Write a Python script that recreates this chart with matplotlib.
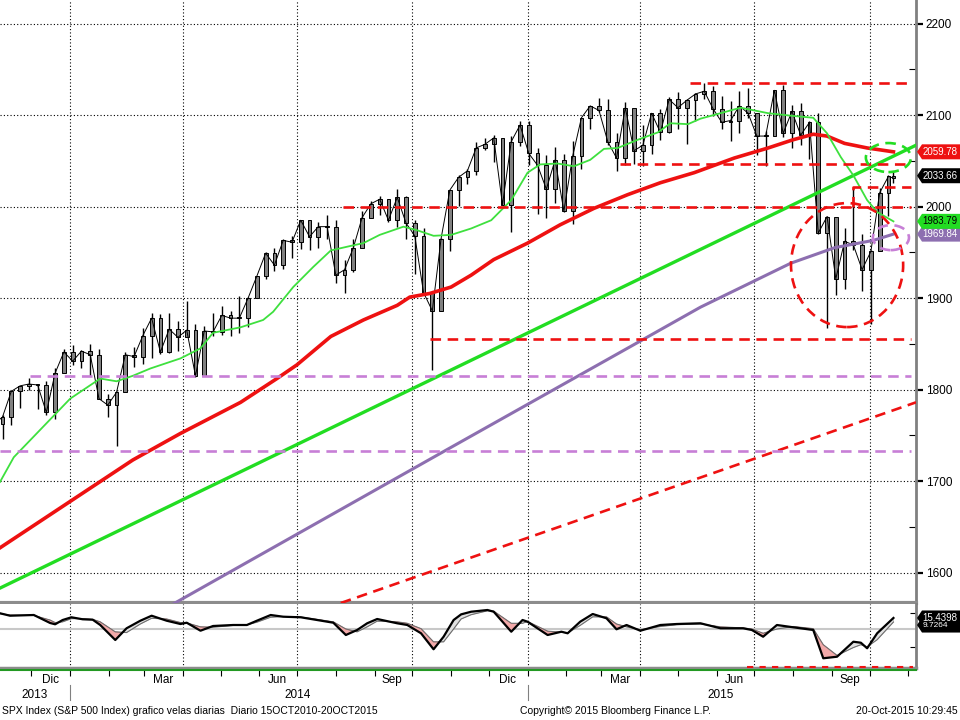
import matplotlib
matplotlib.use("Agg")
import matplotlib.pyplot as plt
import matplotlib.dates as mdates
import matplotlib.transforms as mtrans
from matplotlib.patches import Ellipse, Polygon, Rectangle
from matplotlib.lines import Line2D
import pandas as pd

plt.rcParams['font.family'] = ['Liberation Sans', 'DejaVu Sans']

# weekly SPX bars (friday closes), last bar is 20-Oct-2015
week_dates = list(pd.date_range('2013-11-01', '2015-10-16', freq='W-FRI')) + [pd.Timestamp('2015-10-20')]
first_open = 1759
closes = [1762, 1770, 1798, 1804, 1806, 1805, 1775, 1818, 1841,
          # 2014
          1831, 1842, 1838, 1790, 1783, 1797, 1838, 1836, 1859, 1878, 1841, 1866, 1857,
          1865, 1815, 1864, 1863, 1881, 1878, 1878, 1900, 1924, 1949, 1936, 1963, 1961,
          1985, 1967, 1978, 1978, 1925, 1931, 1955, 1988, 2003, 2008, 1985, 2010, 1982,
          1968, 1906, 1886, 1965, 2018, 2032, 2039, 2064, 2068, 2075, 2002, 2071, 2089,
          # 2015
          2058, 2045, 2019, 2051, 1995, 2055, 2097, 2110, 2105, 2071, 2053, 2108, 2061,
          2067, 2102, 2081, 2117, 2108, 2116, 2123, 2126, 2107, 2092, 2094, 2110, 2102,
          2077, 2077, 2127, 2080, 2104, 2078, 2092, 1971, 1989, 1921, 1962, 1958, 1931,
          1951, 2015, 2033, 2031]
highs = [1775, 1772, 1798, 1804, 1813, 1806, 1809, 1823, 1844,
         1849, 1843, 1850, 1844, 1795, 1798, 1841, 1847, 1867, 1884, 1883, 1884, 1875,
         1897, 1872, 1869, 1884, 1891, 1886, 1902, 1901, 1924, 1950, 1955, 1964, 1968,
         1985, 1985, 1983, 1991, 1985, 1942, 1964, 1995, 2006, 2011, 2008, 2019, 2011,
         1985, 1977, 1906, 1966, 2018, 2034, 2041, 2071, 2075, 2078, 2074, 2077, 2094,
         2094, 2064, 2056, 2065, 2057, 2072, 2097, 2110, 2119, 2117, 2080, 2114, 2106,
         2089, 2102, 2107, 2120, 2125, 2117, 2124, 2135, 2132, 2121, 2115, 2126, 2130,
         2102, 2083, 2127, 2133, 2111, 2113, 2094, 2102, 1990, 1987, 1976, 2021, 1970,
         1952, 2020, 2034, 2039]
lows = [1746, 1746, 1761, 1780, 1799, 1779, 1772, 1768, 1819,
        1827, 1824, 1815, 1790, 1770, 1738, 1798, 1825, 1828, 1834, 1839, 1840, 1842,
        1858, 1814, 1816, 1859, 1860, 1859, 1862, 1868, 1901, 1921, 1930, 1932, 1944,
        1954, 1952, 1955, 1965, 1916, 1905, 1928, 1955, 1988, 1991, 1983, 1978, 1964,
        1926, 1905, 1821, 1886, 1951, 2001, 2025, 2034, 2062, 2049, 2002, 1972, 2066,
        2045, 1992, 1988, 2004, 1994, 1981, 2041, 2085, 2103, 2067, 2039, 2045, 2046,
        2044, 2057, 2073, 2080, 2085, 2068, 2093, 2118, 2099, 2085, 2072, 2080, 2097,
        2056, 2044, 2079, 2076, 2064, 2067, 2052, 1970, 1867, 1903, 1910, 1953, 1908,
        1872, 1951, 1990, 2026]
opens = [first_open] + closes[:-1]

# moving averages
ma50_dates = ['2013-11-06', '2013-11-17', '2014-01-01', '2014-01-25', '2014-02-07', '2014-02-20',
              '2014-03-06', '2014-03-30', '2014-04-15', '2014-04-25', '2014-05-17', '2014-06-04',
              '2014-06-12', '2014-06-28', '2014-07-14', '2014-07-28', '2014-08-13', '2014-08-23',
              '2014-09-05', '2014-09-24', '2014-10-05', '2014-10-18', '2014-11-01', '2014-11-17',
              '2014-12-03', '2014-12-19', '2015-01-01', '2015-01-11', '2015-01-25', '2015-02-07',
              '2015-02-20', '2015-03-03', '2015-03-14', '2015-03-30', '2015-04-15', '2015-04-25',
              '2015-05-09', '2015-05-19', '2015-06-20', '2015-07-12', '2015-08-01', '2015-08-17',
              '2015-08-28', '2015-09-08', '2015-09-18', '2015-09-29', '2015-10-07', '2015-10-20']
ma50_values = [1699, 1726, 1790, 1812, 1809, 1815, 1823, 1834, 1845, 1862, 1868, 1876,
               1885, 1912, 1934, 1952, 1957, 1960, 1969, 1978, 1974, 1968, 1969, 1976,
               1985, 2007, 2037, 2046, 2047, 2044, 2051, 2063, 2064, 2073, 2081, 2091,
               2090, 2096, 2108, 2102, 2099, 2097, 2080, 2054, 2034, 2007, 1994, 1983.79]

ma200_dates = ['2013-11-06', '2014-02-20', '2014-03-30', '2014-05-17', '2014-06-15', '2014-07-01',
               '2014-07-28', '2014-08-23', '2014-09-19', '2014-09-29', '2014-10-15', '2014-11-01',
               '2014-11-17', '2014-12-05', '2015-01-01', '2015-01-27', '2015-02-23', '2015-03-22',
               '2015-04-17', '2015-05-14', '2015-06-15', '2015-07-12', '2015-08-01', '2015-08-17',
               '2015-08-28', '2015-09-11', '2015-09-29', '2015-10-20']
ma200_values = [1627, 1723, 1752, 1786, 1812, 1827, 1858, 1876, 1892, 1901, 1905, 1912,
                1925, 1942, 1960, 1980, 1998, 2013, 2026, 2037, 2053, 2064, 2073, 2079,
                2077, 2069, 2064, 2059.78]

malong_dates = ['2014-03-14', '2014-03-26', '2014-10-27', '2015-04-01', '2015-05-19',
                '2015-07-30', '2015-09-03', '2015-10-04', '2015-10-20']
malong_values = [1558, 1567, 1733, 1853, 1890, 1938, 1955, 1963, 1969.84]

# lower panel oscillator
osc_dates = ['2013-11-06', '2013-11-14', '2013-12-03', '2013-12-16', '2013-12-20', '2013-12-26',
             '2014-01-02', '2014-01-11', '2014-01-19', '2014-01-25', '2014-02-06', '2014-02-15',
             '2014-02-26', '2014-03-07', '2014-03-19', '2014-03-30', '2014-04-04', '2014-04-15',
             '2014-04-25', '2014-05-11', '2014-05-22', '2014-05-30', '2014-06-10', '2014-06-20',
             '2014-07-04', '2014-07-17', '2014-07-30', '2014-08-09', '2014-08-18', '2014-08-26',
             '2014-09-03', '2014-09-19', '2014-09-27', '2014-10-08', '2014-10-18', '2014-10-26',
             '2014-11-03', '2014-11-09', '2014-11-17', '2014-11-30', '2014-12-05', '2014-12-19',
             '2014-12-28', '2015-01-01', '2015-01-17', '2015-01-28', '2015-02-02', '2015-02-12',
             '2015-02-22', '2015-03-05', '2015-03-13', '2015-03-21', '2015-04-01', '2015-04-17',
             '2015-04-30', '2015-05-19', '2015-06-04', '2015-06-22', '2015-06-29', '2015-07-08',
             '2015-07-19', '2015-08-01', '2015-08-17', '2015-08-25', '2015-09-05', '2015-09-18',
             '2015-09-24', '2015-09-29', '2015-10-07', '2015-10-20']
osc_fast = [22.0, 18.6, 19.6, 8.4, 6.6, 12.6, 16.4, 13.6, 13.0, 5.6, -15.4, 1.0,
            11.6, 18.6, 11.6, 7.0, 8.8, -2.4, 4.2, 5.6, 5.6, 11.6, 19.6, 17.2,
            16.4, 12.6, 8.8, -8.4, -1.4, 8.0, 14.0, 8.0, 5.6, -6.0, -28.4, -10.8,
            12.6, 20.5, 24.2, 26.6, 24.2, -3.8, 12.6, 10.2, -8.4, -3.8, -6.0, 10.2,
            21.0, 15.0, -0.4, 5.6, -2.4, 5.6, 7.0, 8.0, 1.0, 1.0, -1.4, -10.8,
            5.6, 2.4, -1.4, -41.0, -38.8, -17.8, -19.2, -27.0, -6.0, 15.4398]
osc_slow = [21.5, 19.5, 19.0, 12.5, 9.0, 10.0, 14.5, 14.5, 13.5, 10.0, -4.0, -5.0,
            7.0, 15.0, 14.0, 9.0, 8.5, 3.0, 2.5, 5.0, 5.8, 9.5, 16.5, 17.5,
            16.8, 13.5, 10.0, 0.0, -4.0, 3.0, 11.0, 10.0, 8.0, 0.5, -18.0, -18.0,
            0.0, 14.0, 20.0, 25.5, 25.0, 8.0, 8.0, 10.5, -3.0, -4.5, -5.5, 5.0,
            17.0, 17.0, 7.0, 3.0, -1.0, 3.5, 6.0, 7.0, 3.0, 1.5, 0.0, -6.0,
            0.0, 3.5, 0.5, -22.0, -37.0, -26.0, -22.0, -25.0, -15.0, 9.7264]

# horizontal levels
red_levels = [(2135, '2015-05-11'), (2047, '2015-03-16'), (2000, '2014-08-07'), (1855, '2014-10-15')]
purple_levels = [(1815, '2013-11-30'), (1733, '2013-11-06')]
level_end = '2015-11-03'

d = lambda s: mdates.date2num(pd.Timestamp(s))
RED = '#ee1111'
GREEN = '#22dd22'
PURPLE = '#8d6fb0'
LPURPLE = '#c77fd6'
GRAY = '#8c8c8c'

fig = plt.figure(figsize=(9.6, 7.2), dpi=100)
ax = fig.add_axes([0, 1 - 603 / 720, 916 / 960, 603 / 720])
ax2 = fig.add_axes([0, 1 - 668 / 720, 916 / 960, 64 / 720])

x0, x1 = d('2013-11-06'), d('2015-11-07')
ax.set_xlim(x0, x1)
ax.set_ylim(1566.7, 2225.7)
ax2.set_xlim(x0, x1)
ax2.set_ylim(-54.6, 35)

# grid
quarters = ['2014-01-01', '2014-04-01', '2014-07-01', '2014-10-01',
            '2015-01-01', '2015-04-01', '2015-07-01', '2015-10-01']
for q in quarters:
    for a in (ax, ax2):
        a.axvline(d(q), color='black', lw=0.8, ls=(0, (1, 2)), zorder=1)
for v in range(1600, 2201, 100):
    ax.axhline(v, color='black', lw=0.8, ls=(0, (1, 2)), zorder=1)

# candles
wdates = [mdates.date2num(t) for t in week_dates]
for xd, o, h, l, c in zip(wdates, opens, highs, lows, closes):
    ax.vlines(xd, l, h, color='black', lw=1.0, zorder=3)
    ax.add_patch(Rectangle((xd - 1.5, min(o, c)), 3.0, max(abs(c - o), 0.8),
                           facecolor='#808080', edgecolor='black', lw=0.7, zorder=3))
ax.plot(wdates, closes, color='black', lw=0.7, zorder=3)

# trend lines
ax.plot([d('2013-11-06'), d('2015-11-07')], [1583, 2067], color=GREEN, lw=2.4, zorder=4)
ax.plot([d('2014-08-05'), d('2015-11-07')], [1566.7, 1786], color=RED, lw=1.9,
        dashes=(4, 2.5), zorder=4)

# moving averages
ax.plot([d(s) for s in malong_dates], malong_values, color=PURPLE, lw=2.2, zorder=4)
ax.plot([d(s) for s in ma200_dates], ma200_values, color=RED, lw=2.6, zorder=4)
ax.plot([d(s) for s in ma50_dates], ma50_values, color='#3ee03e', lw=1.3, zorder=4)

# horizontal levels
for v, start in red_levels:
    ax.plot([d(start), d(level_end)], [v, v], color=RED, lw=1.9, dashes=(4, 2.5), zorder=4)
ax.plot([d('2015-09-18'), d('2015-09-18'), d(level_end)], [2000, 2021, 2021],
        color=RED, lw=1.9, dashes=(4, 2.5), zorder=4)
for v, start in purple_levels:
    ax.plot([d(start), d(level_end)], [v, v], color=LPURPLE, lw=1.9, dashes=(4, 2.5), zorder=4)

# circles
ax.add_patch(Ellipse((d('2015-09-13'), 1936), 89.5, 135.5, fill=False, edgecolor=RED,
                     lw=1.9, ls=(0, (4, 2.5)), zorder=5))
ax.add_patch(Ellipse((d('2015-10-16'), 2053.5), 36, 31.7, fill=False, edgecolor=GREEN,
                     lw=1.9, ls=(0, (4, 2.5)), zorder=5))
ax.add_patch(Ellipse((d('2015-10-18'), 1966), 28.8, 27.3, fill=False, edgecolor=LPURPLE,
                     lw=1.9, ls=(0, (4, 2.5)), zorder=5))

# right axis
ax.yaxis.tick_right()
ax.set_yticks(range(1600, 2201, 100))
ax.set_yticks(range(1650, 2200, 100), minor=True)
ax.tick_params(axis='y', which='major', direction='out', length=5, width=1.6, pad=2,
               labelsize=8.5, colors='black')
ax.tick_params(axis='y', which='minor', direction='in', length=5, width=0.8)
ax.tick_params(axis='x', which='both', bottom=False, labelbottom=False)
for s in ('top', 'left'):
    ax.spines[s].set_visible(False)
ax.spines['right'].set_color('#808080')
ax.spines['right'].set_linewidth(2)
ax.spines['bottom'].set_color(GRAY)
ax.spines['bottom'].set_linewidth(3)

# lower panel
od = [d(s) for s in osc_dates]
ax2.axhline(0, color='#c8c8c8', lw=1.5, zorder=1)
ax2.fill_between(od, osc_fast, osc_slow, where=[f < s for f, s in zip(osc_fast, osc_slow)],
                 interpolate=True, color='#f2a9a9', edgecolor='#c06060', lw=0.4, zorder=2)
ax2.fill_between(od, osc_fast, osc_slow, where=[f >= s for f, s in zip(osc_fast, osc_slow)],
                 interpolate=True, color='#e2e2e2', edgecolor='#a0a0a0', lw=0.4, zorder=2)
ax2.plot(od, osc_slow, color='#707070', lw=0.8, zorder=3)
ax2.plot(od, osc_fast, color='black', lw=1.6, zorder=4)
ax2.yaxis.tick_right()
ax2.set_yticks([-25, 22])
ax2.set_yticklabels([])
ax2.tick_params(axis='y', direction='in', length=4, width=0.8)
ax2.xaxis.set_major_locator(mdates.MonthLocator())
ax2.tick_params(axis='x', direction='out', length=6, width=0.8, labelbottom=False)
ax2.spines['top'].set_visible(False)
ax2.spines['left'].set_visible(False)
ax2.spines['right'].set_color('#808080')
ax2.spines['right'].set_linewidth(2)
ax2.spines['bottom'].set_color(GRAY)
ax2.spines['bottom'].set_linewidth(2.5)
fig.add_artist(Line2D([0, 916 / 960], [1 - 670 / 720] * 2, color='#229922', lw=1.5))
ax2.plot([d('2015-06-25'), d('2015-11-05')], [-53.5, -53.5], color=RED, lw=1.5,
         dashes=(3, 3), clip_on=False, zorder=6)

# month and year labels
month_labels = [('2013-12-16', 'Dic'), ('2014-03-16', 'Mar'), ('2014-06-15', 'Jun'),
                ('2014-09-15', 'Sep'), ('2014-12-16', 'Dic'), ('2015-03-16', 'Mar'),
                ('2015-06-15', 'Jun'), ('2015-09-15', 'Sep')]
blend = mtrans.blended_transform_factory(ax2.transData, ax2.transAxes)
for s, lab in month_labels:
    ax2.text(d(s), -0.19, lab, transform=blend, ha='center', va='center', fontsize=8.5)
for s in ('2014-01-01', '2015-01-01'):
    ax2.plot([d(s), d(s)], [-0.27, -0.5], transform=blend, color='#808080', lw=0.8,
             clip_on=False)
for xp, yr in ((35, '2013'), (298, '2014'), (721, '2015')):
    fig.text(xp / 960, 1 - 695 / 720, yr, ha='center', va='center', fontsize=8.5)

# footer
fig.text(2 / 960, 1 - 711 / 720,
         'SPX Index (S&P 500 Index) grafico velas diarias  Diario 15OCT2010-20OCT2015',
         ha='left', va='center', fontsize=7.5)
fig.text(520 / 960, 1 - 711 / 720, 'Copyright\u00a9 2015 Bloomberg Finance L.P.',
         ha='left', va='center', fontsize=7.5)
fig.text(958 / 960, 1 - 711 / 720, '20-Oct-2015 10:29:45', ha='right', va='center',
         fontsize=7.5)


# value tags on the right axis
def tag(a, value, text, face, txtcolor, size=7, yshift=0):
    xr = a.get_position().x1
    y = fig.transFigure.inverted().transform(a.transData.transform((x0, value)))[1]
    y += yshift / 720
    h = 7.5 / 720
    xs = [xr + 1 / 960, xr + 6 / 960, 1.0, 1.0, xr + 6 / 960]
    ys = [y, y + h, y + h, y - h, y - h]
    fig.add_artist(Polygon(list(zip(xs, ys)), closed=True, transform=fig.transFigure,
                           facecolor=face, edgecolor='none', zorder=5))
    fig.text(xr + 6.5 / 960, y, text, color=txtcolor, fontsize=size, ha='left', va='center',
             zorder=6)


tag(ax, malong_values[-1], '1969.84', PURPLE, 'white')
tag(ax, ma50_values[-1], '1983.79', GREEN, 'black')
tag(ax, 2033.66, '2033.66', 'black', 'white')
tag(ax, ma200_values[-1], '2059.78', RED, 'white')
tag(ax2, osc_slow[-1], '9.7264', 'black', 'white', 6, yshift=-3)
tag(ax2, osc_fast[-1], '15.4398', 'black', 'white')

fig.savefig('out.png', dpi=100, facecolor='white')
